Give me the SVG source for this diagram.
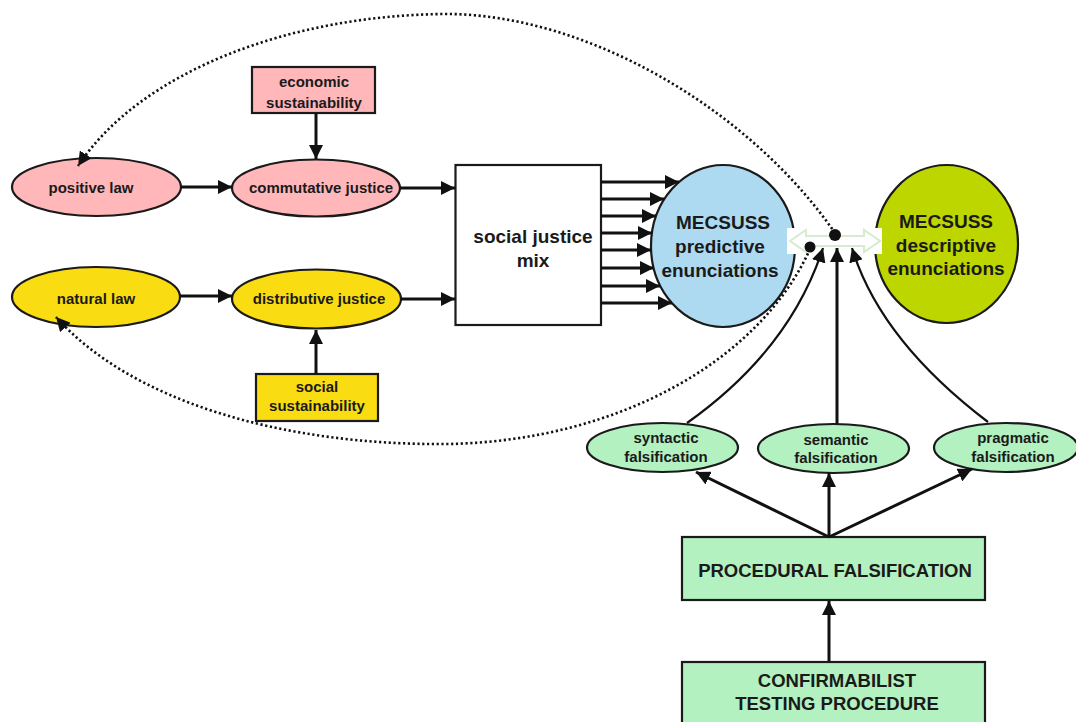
<svg xmlns="http://www.w3.org/2000/svg" width="1076" height="722" viewBox="0 0 1076 722">
<style>
text{font-family:"Liberation Sans",Arial,sans-serif;font-weight:bold;fill:#1a1a1a;text-anchor:middle}
.s{font-size:15px}
.m{font-size:19px}
.l{font-size:18.5px}
.n{stroke:#1a1a1a;stroke-width:2.2}
.a{stroke:#111;stroke-width:3;fill:none;marker-end:url(#ah)}
.c{stroke:#111;stroke-width:2.2;fill:none;marker-end:url(#ah)}
.d{stroke:#111;stroke-width:2.6;fill:none;stroke-dasharray:2.2 2.6;marker-end:url(#ah)}
.pink{fill:#FFB7BA}.yel{fill:#F9DC12}.blue{fill:#ADD9F1}.lime{fill:#BDD600}.lg{fill:#B3F1C0}
</style>
<defs>
<marker id="ah" viewBox="0 0 10 10" refX="10" refY="5" markerWidth="14" markerHeight="14" markerUnits="userSpaceOnUse" orient="auto">
<path d="M0,0 L10,5 L0,10 z" fill="#111"/>
</marker>
</defs>
<rect width="1076" height="722" fill="#fff"/>

<g id="positive-law"><ellipse class="n pink" cx="96.5" cy="187" rx="84.5" ry="29"/><text class="s" x="91" y="193">positive law</text></g>
<g id="commutative-justice"><ellipse class="n pink" cx="316" cy="188" rx="84" ry="28.5"/><text class="s" x="321" y="193">commutative justice</text></g>
<g id="economic-sustainability"><rect class="n pink" x="252" y="67" width="123" height="46"/><text class="s" x="314" y="87">economic</text><text class="s" x="314" y="108">sustainability</text></g>
<g id="natural-law"><ellipse class="n yel" cx="96" cy="297" rx="84" ry="30"/><text class="s" x="96" y="304">natural law</text></g>
<g id="distributive-justice"><ellipse class="n yel" cx="316.5" cy="299" rx="84.5" ry="29.5"/><text class="s" x="319" y="304">distributive justice</text></g>
<g id="social-sustainability"><rect class="n yel" x="256" y="374" width="122" height="47"/><text class="s" x="317" y="392">social</text><text class="s" x="317" y="411">sustainability</text></g>
<g id="social-justice-mix"><rect class="n" fill="#fff" x="455.5" y="165" width="145.5" height="160"/><text class="m" x="533" y="243">social justice</text><text class="m" x="533" y="267">mix</text></g>
<g id="predictive"><ellipse class="n blue" cx="723" cy="246" rx="72" ry="81"/><text class="m" x="723" y="229">MECSUSS</text><text class="m" x="720" y="253">predictive</text><text class="m" x="720" y="277">enunciations</text></g>
<g id="descriptive"><ellipse class="n lime" cx="946.5" cy="244" rx="71.5" ry="79"/><text class="m" x="946" y="228">MECSUSS</text><text class="m" x="946" y="252">descriptive</text><text class="m" x="946" y="275">enunciations</text></g>
<g id="comparison">
<rect x="787" y="228" width="95" height="26" fill="#fff"/>
<path d="M790,241 L806,230 L806,236 L864,236 L864,230 L880,241 L864,252 L864,246 L806,246 L806,252 Z" fill="none" stroke="#d6ebcf" stroke-width="2"/>
<circle cx="835" cy="235" r="6" fill="#111"/>
<circle cx="810" cy="247" r="5.5" fill="#111"/>
</g>
<g id="syntactic"><ellipse class="n lg" cx="662.5" cy="447.5" rx="75.5" ry="24.5"/><text class="s" x="666" y="443">syntactic</text><text class="s" x="666" y="462">falsification</text></g>
<g id="semantic"><ellipse class="n lg" cx="833.5" cy="448.5" rx="75.5" ry="24.5"/><text class="s" x="836" y="445">semantic</text><text class="s" x="836" y="463">falsification</text></g>
<g id="pragmatic"><ellipse class="n lg" cx="1006" cy="447.5" rx="72" ry="24.5"/><text class="s" x="1013" y="443">pragmatic</text><text class="s" x="1013" y="462">falsification</text></g>
<g id="procedural"><rect class="n lg" x="682" y="537" width="303" height="63"/><text class="l" x="835" y="577">PROCEDURAL FALSIFICATION</text></g>
<g id="confirmabilist"><rect class="n lg" x="682" y="662" width="303" height="70"/><text class="l" x="837" y="687">CONFIRMABILIST</text><text class="l" x="837" y="710">TESTING PROCEDURE</text></g>

<g id="connectors">
<line class="a" x1="181" y1="187" x2="232" y2="187"/>
<line class="a" x1="316" y1="113" x2="316" y2="159"/>
<line class="a" x1="400" y1="188" x2="455" y2="188"/>
<line class="a" x1="180" y1="296" x2="232" y2="296"/>
<line class="a" x1="316" y1="374" x2="316" y2="330"/>
<line class="a" x1="401" y1="299" x2="455" y2="299"/>
<line class="a" x1="601" y1="182" x2="679" y2="182"/>
<line class="a" x1="601" y1="199" x2="664" y2="199"/>
<line class="a" x1="601" y1="216" x2="656" y2="216"/>
<line class="a" x1="601" y1="233" x2="652" y2="233"/>
<line class="a" x1="601" y1="250" x2="651" y2="250"/>
<line class="a" x1="601" y1="268" x2="654" y2="268"/>
<line class="a" x1="601" y1="286" x2="660" y2="286"/>
<line class="a" x1="601" y1="303" x2="672" y2="303"/>
<path class="d" d="M835,233 C750,110 590,16 450,14 C290,14 140,72 78,166"/>
<path class="d" d="M810,249 C760,360 620,440 450,444 C280,446 130,400 56,317"/>
<path class="c" d="M687,423 Q790,350 823,248"/>
<line class="a" x1="837" y1="424" x2="837" y2="248"/>
<path class="c" d="M988,422 Q880,340 852,248"/>
<line class="a" x1="829" y1="537" x2="696" y2="472"/>
<line class="a" x1="829" y1="537" x2="829" y2="473"/>
<line class="a" x1="829" y1="537" x2="972" y2="469"/>
<line class="a" x1="829" y1="661" x2="829" y2="601"/>
</g>
</svg>
